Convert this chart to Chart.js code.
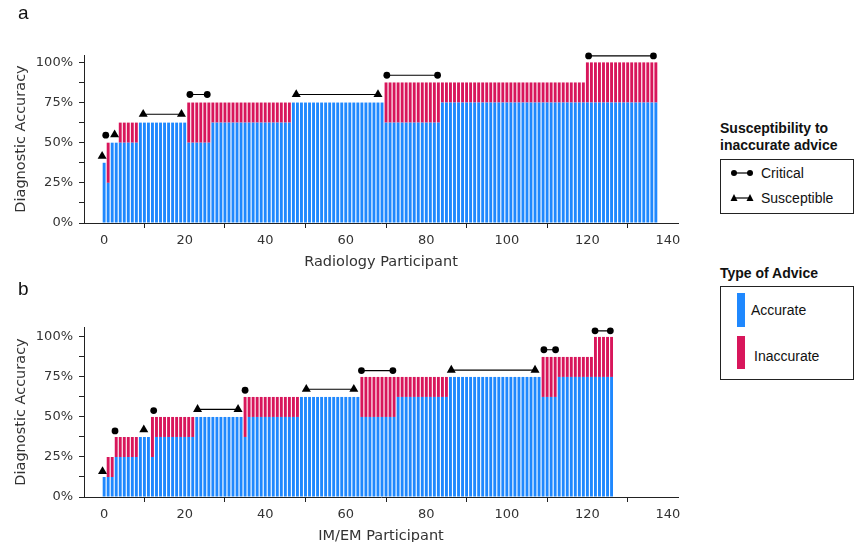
<!DOCTYPE html>
<html>
<head>
<meta charset="utf-8">
<script src="https://cdn.jsdelivr.net/npm/chart.js@4.4.1/dist/chart.umd.min.js"></script>
<style>
  body { margin: 0; background: #fff; width: 854px; height: 542px; overflow: hidden; position: relative;
         font-family: 'Liberation Sans', Arial, sans-serif; color: #111; }
  canvas { position: absolute; left: 0; }
  #chartA { top: 0; }
  #chartB { top: 272px; }
  .panel { position: absolute; left: 18px; font-size: 19px; line-height: 19px; }
  .lg-title { position: absolute; left: 720px; font-weight: bold; font-size: 14px; line-height: 17px; }
  .lg-box { position: absolute; left: 720px; width: 134px; border: 1px solid #222; box-sizing: border-box; }
  .lg-item { position: absolute; font-size: 14px; line-height: 16px; white-space: nowrap; }
  .patch { position: absolute; width: 8px; }
</style>
</head>
<body>
<canvas id="chartA" width="700" height="285"></canvas>
<canvas id="chartB" width="700" height="287"></canvas>

<div class="panel" style="top:3px">a</div>
<div class="panel" style="top:279px">b</div>

<div class="lg-title" style="top:120px">Susceptibility to<br>inaccurate advice</div>
<div class="lg-box" style="top:159px;height:55px">
  <svg style="position:absolute;left:9px;top:7px" width="24" height="40">
    <line x1="4" y1="6" x2="20" y2="6" stroke="#000" stroke-width="1.2"/>
    <circle cx="4" cy="6" r="3" fill="#000"/><circle cx="20" cy="6" r="3" fill="#000"/>
    <line x1="4" y1="31" x2="20" y2="31" stroke="#000" stroke-width="1.2"/>
    <polygon points="4,27 0.5,34 7.5,34" fill="#000"/><polygon points="20,27 16.5,34 23.5,34" fill="#000"/>
  </svg>
  <div class="lg-item" style="left:40px;top:5px">Critical</div>
  <div class="lg-item" style="left:40px;top:30px">Susceptible</div>
</div>

<div class="lg-title" style="top:265px">Type of Advice</div>
<div class="lg-box" style="top:286px;height:94px">
  <div class="patch" style="left:16px;top:6px;height:34px;background:#1f88fe"></div>
  <div class="lg-item" style="left:30px;top:15px">Accurate</div>
  <div class="patch" style="left:16px;top:49px;height:33px;background:#d8165b"></div>
  <div class="lg-item" style="left:33px;top:61px">Inaccurate</div>
</div>

<script>
// runs of participants with the same pair of accuracies (sorted order)
const radCounts = [1, 1, 2, 5, 12, 6, 20, 23, 14, 36, 18];
const radLower  = [37.5, 25, 50, 50, 62.5, 50, 62.5, 75, 62.5, 75, 75];
const radUpper  = [37.5, 50, 50, 62.5, 62.5, 75, 75, 75, 87.5, 87.5, 100];

const imCounts = [1, 2, 6, 3, 1, 10, 12, 1, 13, 15, 9, 13, 23, 4, 9, 5];
const imLower  = [12.5, 12.5, 25, 37.5, 25, 37.5, 50, 37.5, 50, 62.5, 50, 62.5, 75, 62.5, 75, 75];
const imUpper  = [12.5, 25, 37.5, 37.5, 50, 50, 50, 62.5, 62.5, 62.5, 75, 75, 75, 87.5, 87.5, 100];

// susceptibility markers: start / end participant and height
const radCritStart = [0.4, 21.3, 70.2, 120.3];
const radCritEnd   = [0.4, 25.6, 82.8, 136.4];
const radCritY     = [54.7, 80, 92, 104];
const radSuscStart = [-0.5, 2.6, 9.7, 47.7];
const radSuscEnd   = [-0.5, 2.6, 19.2, 68.0];
const radSuscY     = [41.6, 55, 67.7, 80];

const imCritStart = [2.7, 12.3, 35.0, 63.9, 109.2, 121.9];
const imCritEnd   = [2.7, 12.3, 35.0, 71.7, 112.1, 125.7];
const imCritY     = [41.3, 54, 66.7, 79, 92, 103.8];
const imSuscStart = [-0.4, 9.85, 23.2, 50.2, 86.2];
const imSuscEnd   = [-0.4, 9.85, 33.25, 62.0, 107.0];
const imSuscY     = [16, 42, 54.8, 67.3, 79.3];

const xTicks = [0, 20, 40, 60, 80, 100, 120, 140];
const yTicks = [0, 12.5, 25, 37.5, 50, 62.5, 75, 87.5, 100];

const BLUE = '#1f88fe';
const RED = '#d8165b';
const INK = '#222';

Chart.defaults.font.family = "'DejaVu Sans', sans-serif";
Chart.defaults.color = '#333';

function expand(counts, vals) {
    const out = [];
    counts.forEach((n, i) => { for (let k = 0; k < n; k++) out.push(vals[i]); });
    return out;
}

function markerData(starts, ends, ys) {
    const pts = [];
    starts.forEach((s, i) => {
        pts.push({ x: s, y: ys[i] });
        if (ends[i] !== s) pts.push({ x: ends[i], y: ys[i] });
        pts.push({ x: ends[i], y: null });
    });
    return pts;
}

function markerSet(pts, style, r) {
    return {
        type: 'line', data: pts, order: 0, clip: false,
        showLine: true, spanGaps: false, borderColor: '#000', borderWidth: 1.2,
        pointStyle: style, pointRadius: r, pointBackgroundColor: '#000', pointBorderWidth: 0
    };
}

function makeChart(id, counts, lower, upper, crit, susc, yMax, xTitle, plotH) {
    const lo = expand(counts, lower);
    const hi = expand(counts, upper);
    const blue = lo.map((v, i) => ({ x: i, y: v }));
    const red = hi.map((v, i) => ({ x: i, y: v > lo[i] ? [lo[i], v] : null }));

    return new Chart(document.getElementById(id), {
        type: 'bar',
        data: {
            datasets: [
                markerSet(crit, 'circle', 3.4),
                markerSet(susc, 'triangle', 5.2),
                { data: blue, backgroundColor: BLUE, grouped: false, order: 1,
                  categoryPercentage: 0.72, barPercentage: 1, borderWidth: 0 },
                { data: red, backgroundColor: RED, grouped: false, order: 1,
                  categoryPercentage: 0.72, barPercentage: 1, borderWidth: 0 }
            ]
        },
        options: {
            responsive: false,
            animation: false,
            layout: { padding: { left: 0, top: 55, right: 22, bottom: 0 } },
            plugins: { legend: { display: false }, tooltip: { enabled: false } },
            scales: {
                x: {
                    type: 'linear', min: -5, max: 142.5, offset: false,
                    afterBuildTicks: s => { s.ticks = xTicks.map(v => ({ value: v })); },
                    afterFit: s => { s.height = s.chart.height - 55 - plotH; },
                    ticks: { autoSkip: false, maxRotation: 0, padding: 5, font: { size: 13 }, color: '#333' },
                    grid: { display: true, drawOnChartArea: false, drawTicks: true, tickLength: 5, color: INK },
                    border: { display: true, color: INK, width: 1 },
                    title: { display: true, text: xTitle, font: { size: 14.5 }, color: '#333',
                             padding: { top: 0, bottom: 14 } }
                },
                y: {
                    min: 0, max: yMax,
                    afterBuildTicks: s => { s.ticks = yTicks.map(v => ({ value: v })); },
                    afterFit: s => { s.width = 84; },
                    ticks: { autoSkip: false, padding: 6, font: { size: 13 }, color: '#333',
                             callback: v => (v % 25 === 0 ? v + '%' : '') },
                    grid: { display: true, drawOnChartArea: false, drawTicks: true, tickLength: 5, color: INK },
                    border: { display: true, color: INK, width: 1 },
                    title: { display: true, text: 'Diagnostic Accuracy', font: { size: 14.5 }, color: '#333',
                             padding: { top: 13, bottom: 0 } }
                }
            }
        }
    });
}

makeChart('chartA', radCounts, radLower, radUpper,
    markerData(radCritStart, radCritEnd, radCritY),
    markerData(radSuscStart, radSuscEnd, radSuscY),
    104.6, 'Radiology Participant', 168);

makeChart('chartB', imCounts, imLower, imUpper,
    markerData(imCritStart, imCritEnd, imCritY),
    markerData(imSuscStart, imSuscEnd, imSuscY),
    106.2, 'IM/EM Participant', 170);
</script>
</body>
</html>
